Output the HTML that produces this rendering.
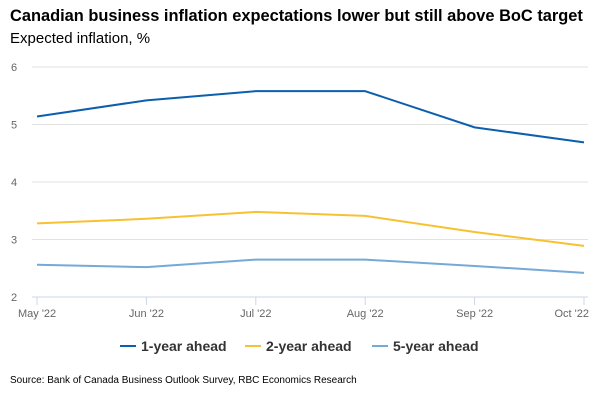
<!DOCTYPE html>
<html><head><meta charset="utf-8"><style>
body{margin:0;background:#fff;font-family:"Liberation Sans",sans-serif;}
#wrap{position:relative;width:600px;height:400px;overflow:hidden;}
.t{position:absolute;white-space:nowrap;}
</style></head><body>
<div id="wrap">
<div class="t" style="left:10px;top:7px;font-size:16.4px;font-weight:bold;color:#000;">Canadian business inflation expectations lower but still above BoC target</div>
<div class="t" style="left:10px;top:30px;font-size:15px;color:#000;">Expected inflation, %</div>
<svg id="plot" width="600" height="400" style="position:absolute;left:0;top:0"></svg>
<div class="t" style="left:10px;top:375px;font-size:10px;color:#000;">Source: Bank of Canada Business Outlook Survey, RBC Economics Research</div>
</div>
<script>
const categories=["May '22","Jun '22","Jul '22","Aug '22","Sep '22","Oct '22"];
const oneYear=[5.14,5.42,5.58,5.58,4.95,4.69];
const twoYear=[3.28,3.36,3.48,3.41,3.13,2.89];
const fiveYear=[2.56,2.52,2.65,2.65,2.54,2.42];
const yTicks=[2,3,4,5,6];
const seriesNames=["1-year ahead","2-year ahead","5-year ahead"];
const seriesColors=["#0b5fad","#f7c231","#74a9d8"];
const NS="http://www.w3.org/2000/svg";
const svg=document.getElementById('plot');
const x0=37,x1=584,yTop=67,yBot=297;
const xs=i=>x0+i*(x1-x0)/(categories.length-1);
const ys=v=>yBot-(v-2)/(6-2)*(yBot-yTop);
function mk(tag,attrs){const e=document.createElementNS(NS,tag);for(const k in attrs)e.setAttribute(k,attrs[k]);svg.appendChild(e);return e;}
yTicks.forEach(v=>{
  const l=mk('line',{x1:32,x2:588,y1:ys(v),y2:ys(v),stroke:v===2?'#ccd6eb':'#e2e2e2','stroke-width':1});
  
  
  const t=mk('text',{x:14,y:ys(v)+4,'font-size':11,fill:'#666','font-family':'Liberation Sans, sans-serif','text-anchor':'middle'});
  t.textContent=v;
  
  
});
categories.forEach((c,i)=>{
  const l=mk('line',{x1:xs(i),x2:xs(i),y1:yBot,y2:yBot+8,stroke:'#ccd6eb'});
  
  
  let anchor=i===0?'start':(i===categories.length-1?'end':'middle');
  let xx=i===0?18:(i===categories.length-1?589:xs(i));
  const t=mk('text',{x:xx,y:317,'font-size':11,fill:'#666','font-family':'Liberation Sans, sans-serif','text-anchor':anchor});
  t.textContent=c;
  
  
});
[fiveYear,twoYear,oneYear].forEach((arr,k)=>{
  const idx=2-k;
  const p=mk('polyline',{points:arr.map((v,i)=>xs(i)+','+ys(v)).join(' '),fill:'none',stroke:seriesColors[idx],'stroke-width':2,'stroke-linejoin':'round'});
  
  
});
const legX=[120,245,372];
seriesNames.forEach((n,i)=>{
  const g=mk('g',{});
  
  
  const l=document.createElementNS(NS,'line');
  l.setAttribute('x1',legX[i]);l.setAttribute('x2',legX[i]+16);l.setAttribute('y1',346);l.setAttribute('y2',346);
  l.setAttribute('stroke',seriesColors[i]);l.setAttribute('stroke-width',2);g.appendChild(l);
  const t=document.createElementNS(NS,'text');
  t.setAttribute('x',legX[i]+21);t.setAttribute('y',351);t.setAttribute('font-size',14);t.setAttribute('font-weight','bold');
  t.setAttribute('fill','#333');t.setAttribute('font-family','Liberation Sans, sans-serif');
  t.textContent=n;g.appendChild(t);
});
</script>
</body></html>
